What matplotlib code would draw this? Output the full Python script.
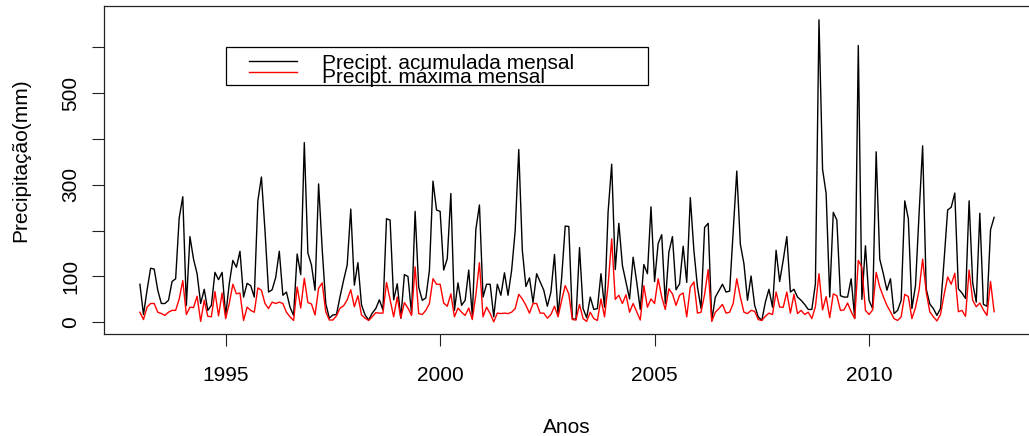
import matplotlib
matplotlib.use('Agg')
import matplotlib.pyplot as plt
from matplotlib.patches import Rectangle
from matplotlib.lines import Line2D
import numpy as np

# monthly series, jan 1993 .. dec 2012
ano_inicio = 1993

acumulada = [83, 17, 70, 118, 116, 70, 41, 41, 48, 89, 95, 228,
             274, 37, 187, 138, 106, 41, 72, 26, 37, 109, 93, 109,
             15, 84, 135, 120, 155, 55, 85, 80, 55, 265, 317, 200,
             66, 71, 98, 155, 59, 66, 33, 15, 149, 104, 392, 151,
             125, 70, 302, 160, 41, 9, 16, 17, 56, 92, 125, 247,
             81, 130, 38, 16, 5, 20, 30, 49, 27, 226, 223, 49,
             84, 9, 104, 100, 19, 242, 77, 48, 53, 113, 308, 245,
             242, 114, 139, 281, 26, 86, 37, 48, 114, 15, 203, 256,
             55, 83, 83, 12, 83, 59, 108, 59, 113, 200, 377, 157,
             78, 97, 43, 106, 88, 70, 35, 66, 148, 15, 97, 210,
             209, 8, 6, 163, 30, 10, 55, 28, 30, 106, 33, 241,
             345, 115, 216, 124, 88, 51, 142, 88, 28, 126, 106, 252,
             89, 172, 191, 41, 153, 187, 71, 84, 166, 87, 272, 157,
             77, 30, 207, 216, 4, 55, 69, 83, 66, 68, 200, 330,
             170, 128, 48, 101, 37, 12, 4, 44, 72, 33, 157, 89,
             136, 187, 66, 72, 55, 48, 39, 28, 28, 84, 660, 334,
             281, 55, 240, 223, 58, 55, 55, 95, 9, 604, 50, 167,
             48, 30, 372, 138, 106, 70, 95, 19, 26, 48, 265, 226,
             30, 80, 236, 385, 73, 40, 30, 15, 30, 135, 245, 251,
             282, 73, 64, 52, 265, 86, 44, 238, 39, 35, 202, 229]

maxima = [22, 6, 33, 41, 41, 22, 19, 15, 22, 26, 26, 51,
          91, 17, 33, 32, 57, 2, 48, 13, 12, 67, 14, 64,
          8, 41, 83, 62, 64, 4, 33, 26, 22, 75, 70, 41,
          30, 44, 41, 44, 41, 22, 12, 4, 77, 31, 96, 43,
          40, 16, 74, 86, 23, 5, 5, 14, 31, 36, 49, 71,
          34, 58, 16, 9, 4, 12, 21, 20, 20, 87, 49, 12,
          55, 9, 43, 31, 15, 121, 19, 17, 26, 41, 95, 83,
          83, 42, 35, 62, 12, 31, 22, 15, 31, 6, 60, 130,
          12, 33, 19, 1, 20, 19, 20, 19, 22, 30, 61, 51,
          37, 20, 41, 41, 20, 20, 9, 17, 35, 12, 48, 80,
          62, 6, 5, 39, 8, 2, 22, 8, 4, 51, 12, 81,
          182, 50, 59, 41, 60, 22, 41, 23, 5, 80, 33, 51,
          41, 95, 55, 28, 73, 62, 37, 59, 64, 12, 77, 88,
          20, 22, 61, 115, 2, 22, 30, 39, 20, 22, 41, 95,
          55, 22, 19, 26, 24, 6, 4, 13, 20, 17, 66, 33,
          33, 66, 20, 61, 19, 26, 17, 22, 8, 34, 106, 27,
          56, 10, 62, 58, 26, 27, 42, 23, 8, 135, 120, 26,
          17, 27, 109, 77, 56, 37, 23, 8, 4, 12, 61, 56,
          8, 32, 70, 138, 66, 23, 12, 3, 17, 60, 99, 83,
          107, 23, 26, 13, 114, 48, 34, 42, 27, 15, 89, 23]

anos_ticks = [1995, 2000, 2005, 2010]
y_ticks = [0, 100, 200, 300, 400, 500, 600]
y_labels = ['0', '100', '', '300', '', '500', '']

tempo = ano_inicio + np.arange(len(acumulada)) / 12.0

plt.rcParams['font.family'] = ['Liberation Sans', 'DejaVu Sans']

W = 1029.
H = 436.
fig = plt.figure(figsize=(W / 100, H / 100), dpi=100)

# axes box in pixels (right side is cut off in the original)
left_px, right_px, top_px, bot_px = 104.3, 1032., 5.7, 334.3
ax = fig.add_axes([left_px / W, 1 - bot_px / H, (right_px - left_px) / W, (bot_px - top_px) / H])

ax.plot(tempo, acumulada, color='black', lw=1.0)
ax.plot(tempo, maxima, color='red', lw=1.0)

ax.set_xlim(1992.17, 2013.8)
ax.set_ylim(-26.2, 690.8)

ax.set_xticks(anos_ticks)
ax.set_xticklabels([str(a) for a in anos_ticks])
ax.set_yticks(y_ticks)
ax.set_yticklabels(y_labels)
ax.tick_params(axis='both', direction='out', length=8.4, width=0.8, labelsize=15, colors='#222222', labelcolor='black')
ax.tick_params(axis='x', pad=14.5)
ax.tick_params(axis='y', pad=9, labelrotation=90)
for lab in ax.get_yticklabels():
    lab.set_va('center')
for s in ax.spines.values():
    s.set_linewidth(0.9)
    s.set_color('#222222')

fig.text(567 / W, 1 - 433.3 / H, 'Anos', ha='center', va='baseline', fontsize=15)
fig.text(21 / W, 1 - 160 / H, 'Precipitação(mm)', ha='center', va='center', rotation=90, fontsize=15)

# legend drawn by hand, R style with overlapping rows
fig.add_artist(Rectangle((226 / W, 1 - 85 / H), (648 - 226) / W, (85 - 46.7) / H,
                         transform=fig.transFigure, fill=False, edgecolor='black', lw=0.9))
fig.add_artist(Line2D([249 / W, 297 / W], [1 - 60.7 / H, 1 - 60.7 / H], transform=fig.transFigure, color='black', lw=1.0))
fig.add_artist(Line2D([249 / W, 297 / W], [1 - 72.3 / H, 1 - 72.3 / H], transform=fig.transFigure, color='red', lw=1.0))
fig.text(321.7 / W, 1 - 69.3 / H, 'Precipt. acumulada mensal', ha='left', va='baseline', fontsize=15)
fig.text(321.7 / W, 1 - 83.3 / H, 'Precipt. máxima mensal', ha='left', va='baseline', fontsize=15)

fig.savefig('out.png', dpi=100)
